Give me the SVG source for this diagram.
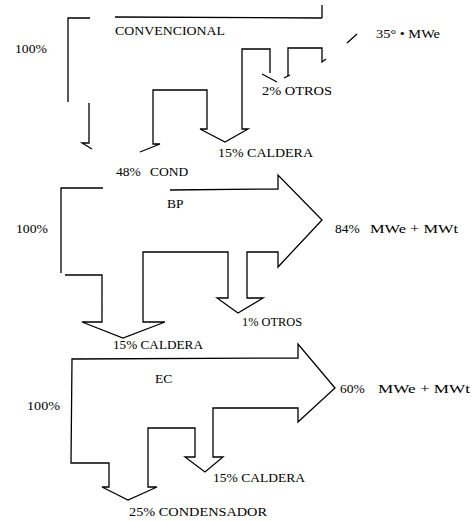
<svg xmlns="http://www.w3.org/2000/svg" width="472" height="521" viewBox="0 0 472 521">
<style>
.l{fill:none;stroke:#000;stroke-width:1.3;stroke-linejoin:miter;stroke-linecap:butt}
text{font-family:"Liberation Serif","Times New Roman",serif;font-size:13.5px;fill:#000}
</style>
<rect width="472" height="521" fill="#fff"/>
<g id="connectors">
  <g id="flow-convencional">
    <path class="l" d="M90,18 L68,18 L68,102"/>
    <path class="l" d="M115,17 L322,18 M322,5 L322,18"/>
    <path class="l" d="M347,43 L357,34"/>
    <path class="l" d="M288,76 L288,48 L322,48 L322,62 L326,59"/>
    <path class="l" d="M262,74 L277,82 M284,78 L290,75"/>
    <path class="l" d="M270,73 L270,49 L242,49 L242,129 L248,129 L225,142 L200,129 L207,129 L207,90 L153,90 L153,144 L160,144 L140,152"/>
    <path class="l" d="M89,103 L89,143 L82,143 L92,149"/>
  </g>
  <g id="flow-bp">
    <path class="l" d="M103,188 L61,188 L61,273"/>
    <path class="l" d="M65,275 L102,275 L102,322 L82,322 L123,338 L165,322 L143,322 L143,252 L228,252 L228,298 L217,298 L238,313 L263,298 L247,298 L247,252 L278,252 L278,267 L322,220 L278,175 L278,189 L170,190"/>
  </g>
  <g id="flow-ec">
    <path class="l" d="M72,359 L298,358 L298,344 L335,388 L298,422 L298,408 L213,408 L213,457 L223,457 L205,472 L185,457 L195,457 L195,428 L148,428 L148,487 L157,487 L128,500 L102,487 L109,487 L109,463 L71,463 Z"/>
  </g>
</g>
<g id="node-convencional">
  <text x="115" y="35" textLength="110" lengthAdjust="spacingAndGlyphs">CONVENCIONAL</text>
  <text x="15" y="53" textLength="32" lengthAdjust="spacingAndGlyphs">100%</text>
  <text x="376" y="38" textLength="64" lengthAdjust="spacingAndGlyphs">35° • MWe</text>
  <text x="262" y="95" textLength="70" lengthAdjust="spacingAndGlyphs">2% OTROS</text>
  <text x="218" y="157" textLength="95" lengthAdjust="spacingAndGlyphs">15% CALDERA</text>
  <text x="116" y="176">48%<tspan x="150">COND</tspan></text>
</g>
<g id="node-bp">
  <text x="167" y="208">BP</text>
  <text x="16" y="233" textLength="32" lengthAdjust="spacingAndGlyphs">100%</text>
  <text x="335" y="233">84%</text>
  <text x="370" y="233" textLength="88" lengthAdjust="spacingAndGlyphs">MWe + MWt</text>
  <text x="242" y="326" textLength="60" lengthAdjust="spacingAndGlyphs">1% OTROS</text>
  <text x="113" y="349" textLength="90" lengthAdjust="spacingAndGlyphs">15% CALDERA</text>
</g>
<g id="node-ec">
  <text x="155" y="383">EC</text>
  <text x="27" y="410" textLength="33" lengthAdjust="spacingAndGlyphs">100%</text>
  <text x="340" y="393">60%</text>
  <text x="378" y="393" textLength="92" lengthAdjust="spacingAndGlyphs">MWe + MWt</text>
  <text x="213" y="482" textLength="92" lengthAdjust="spacingAndGlyphs">15% CALDERA</text>
  <text x="129" y="516" textLength="138" lengthAdjust="spacingAndGlyphs">25% CONDENSADOR</text>
</g>
</svg>
